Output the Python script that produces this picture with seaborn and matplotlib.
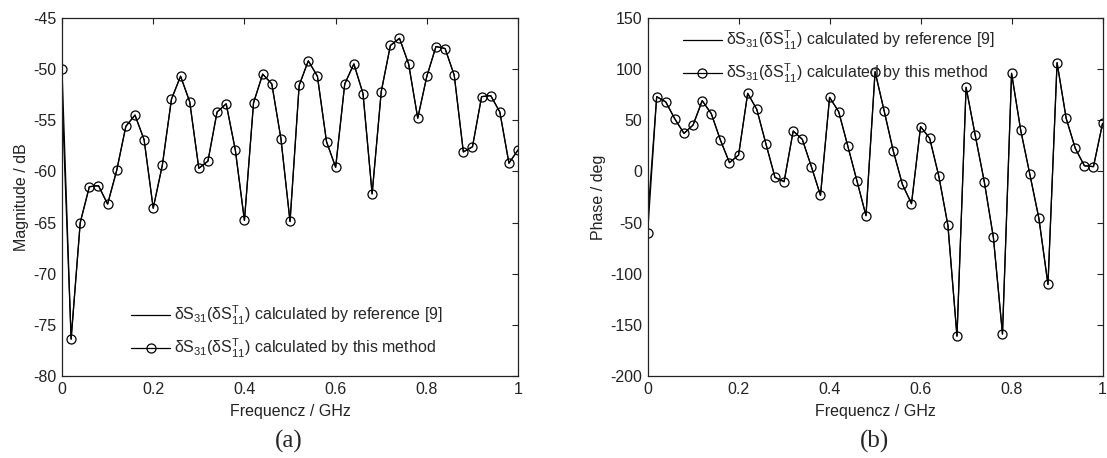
import matplotlib
matplotlib.use("Agg")
import matplotlib.pyplot as plt
import seaborn as sns
import numpy as np
import pandas as pd

# ---------------- data ----------------
freq = [round(0.02 * i, 2) for i in range(51)]

mag_method = [-50.0, -76.4, -65.0, -61.5, -61.4, -63.2, -59.9, -55.6, -54.5, -56.9,
              -63.6, -59.4, -52.95, -50.7, -53.2, -59.7, -59.0, -54.2, -53.4, -57.9,
              -64.8, -53.3, -50.5, -51.45, -56.8, -64.9, -51.6, -49.2, -50.7, -57.1,
              -59.6, -51.45, -49.5, -52.4, -62.2, -52.2, -47.7, -47.0, -49.5, -54.8,
              -50.7, -47.8, -48.0, -50.6, -58.1, -57.6, -52.7, -52.6, -54.2, -59.2,
              -57.9]
mag_reference = [-52.5] + mag_method[1:]

phase_method = [-60.6, 73.0, 67.8, 51.2, 37.1, 45.3, 69.1, 56.4, 30.6, 8.5,
                16.0, 76.2, 60.6, 27.0, -5.9, -10.1, 39.4, 31.3, 4.6, -23.5,
                72.3, 58.3, 24.8, -9.1, -43.3, 97.4, 59.0, 19.9, -12.7, -31.6,
                43.7, 32.3, -4.6, -52.5, -161.0, 82.1, 35.5, -10.1, -64.5, -159.0,
                95.8, 40.4, -2.6, -45.9, -110.5, 106.2, 51.8, 22.5, 5.5, 4.6,
                46.9]
phase_reference = [-47.6] + phase_method[1:]

label_ref = r"$\mathregular{\delta S_{31}(\delta S^{T}_{11})}$ calculated by reference [9]"
label_this = r"$\mathregular{\delta S_{31}(\delta S^{T}_{11})}$ calculated by this method"

mag_ticks = [-80, -75, -70, -65, -60, -55, -50, -45]
phase_ticks = [-200, -150, -100, -50, 0, 50, 100, 150]
x_ticks = [0, 0.2, 0.4, 0.6, 0.8, 1]
x_ticklabels = ["0", "0.2", "0.4", "0.6", "0.8", "1"]

# ---------------- style ----------------
FS = 11.5
sns.set_style("white")
plt.rcParams["font.family"] = ["Liberation Sans", "DejaVu Sans"]
plt.rcParams["mathtext.fontset"] = "custom"
plt.rcParams["mathtext.rm"] = "Liberation Sans"
plt.rcParams["mathtext.it"] = "Liberation Sans"
plt.rcParams["font.size"] = FS
plt.rcParams["axes.edgecolor"] = "#222222"
plt.rcParams["axes.linewidth"] = 0.9

fig = plt.figure(figsize=(11.07, 4.58), dpi=100)
ax1 = fig.add_axes([0.056, 0.179, 0.412, 0.782])
ax2 = fig.add_axes([0.585, 0.179, 0.411, 0.782])


def draw(ax, y_ref, y_this, ylim, yticks, ylabel):
    df = pd.DataFrame({"f": freq, "ref": y_ref, "this": y_this})
    sns.lineplot(data=df, x="f", y="ref", ax=ax, color="black", linewidth=0.9,
                 label=label_ref, estimator=None)
    sns.lineplot(data=df, x="f", y="this", ax=ax, color="black", linewidth=0.9,
                 marker="o", markersize=6.5, markerfacecolor="none",
                 markeredgecolor="black", markeredgewidth=0.9,
                 label=label_this, estimator=None)
    ax.set_xlim(0, 1)
    ax.set_ylim(*ylim)
    ax.set_xticks(x_ticks)
    ax.set_xticklabels(x_ticklabels)
    ax.set_yticks(yticks)
    ax.set_yticklabels([str(t) for t in yticks])
    ax.set_xlabel("Frequencz / GHz", fontsize=FS, color="#222222", labelpad=5)
    ax.set_ylabel(ylabel, fontsize=FS, color="#222222", labelpad=3)
    ax.tick_params(direction="in", top=True, right=True, length=4,
                   width=0.8, labelsize=FS, colors="#222222", pad=4)
    for s in ax.spines.values():
        s.set_visible(True)


draw(ax1, mag_reference, mag_method, (-80, -45), mag_ticks, "Magnitude / dB")
draw(ax2, phase_reference, phase_method, (-200, 150), phase_ticks, "Phase / deg")

leg1 = ax1.legend(loc="upper left", bbox_to_anchor=(0.127, 0.232), frameon=False,
                  handlelength=2.45, handletextpad=0.25, labelspacing=0.6,
                  fontsize=FS, borderpad=0.2)
leg2 = ax2.legend(loc="upper left", bbox_to_anchor=(0.053, 1.0), frameon=False,
                  handlelength=2.45, handletextpad=0.25, labelspacing=0.6,
                  fontsize=FS, borderpad=0.2)

fig.text(0.261, 0.036, "(a)", family="Liberation Serif", fontsize=18, ha="center", va="center")
fig.text(0.790, 0.036, "(b)", family="Liberation Serif", fontsize=18, ha="center", va="center")

fig.savefig("out.png", dpi=100)
